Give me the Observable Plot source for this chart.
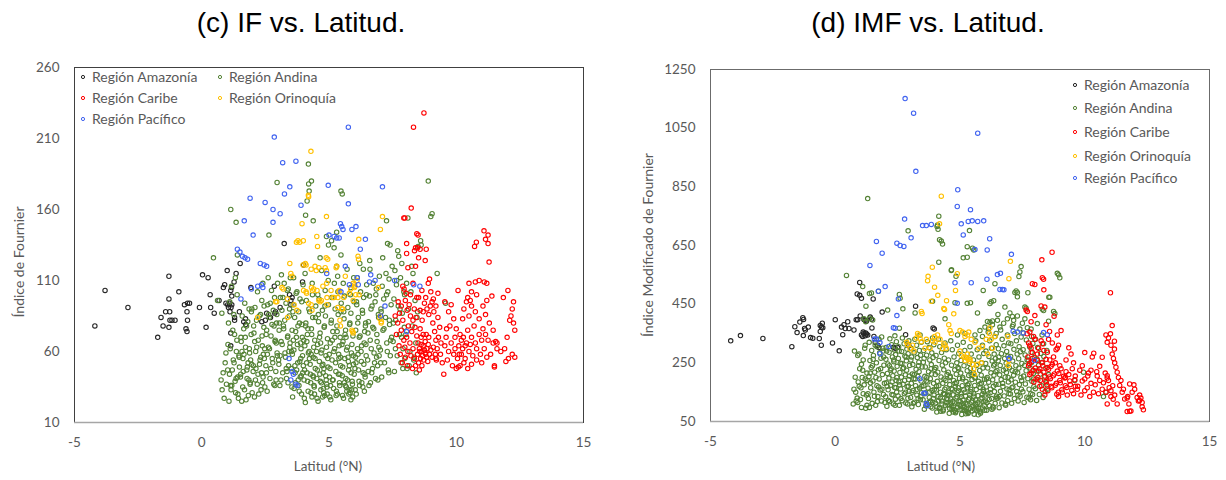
<!DOCTYPE html>
<html><head><meta charset="utf-8">
<script src="https://cdn.jsdelivr.net/npm/d3@7"></script>
<script src="https://cdn.jsdelivr.net/npm/@observablehq/plot@0.6"></script>
<style>
body{margin:0;background:#fff;}
#wrap{position:relative;width:1226px;height:480px;overflow:hidden;font-family:Lato,"Open Sans",sans-serif;}
.title{position:absolute;top:7px;font-family:"Liberation Sans",Arial,sans-serif;font-size:28px;color:#000;white-space:nowrap;transform:translateX(-50%);}
.panel{position:absolute;top:0;}
.lg{position:absolute;font-size:14px;line-height:16px;color:#595959;white-space:nowrap;}
.lg svg{position:absolute;overflow:visible;}
.xl{position:absolute;top:458px;font-size:13.5px;color:#595959;white-space:nowrap;transform:translateX(-50%);}
.yl{position:absolute;font-size:14px;color:#595959;white-space:nowrap;transform:translate(-50%,-50%) rotate(-90deg);}
</style></head>
<body><div id="wrap"></div>
<script>
const regions = ["Región Amazonía","Región Andina","Región Caribe","Región Orinoquía","Región Pacífico"];
const colors = ["#262626","#548235","#ff0000","#ffc000","#4063f0"];
const latTicks = [-5,0,5,10,15];
const ifTicks = [10,60,110,160,210,260];
const imfTicks = [50,250,450,650,850,1050,1250];

// ---------- (c) IF ----------
const amazIF = [[-4.2,78],[-3.8,103],[-2.9,91],[-1.73,70],[-1.6,84],[-1.42,88],[-1.29,97],[-1.29,113],[-1.26,88],[-1.25,82],[-1.17,82],[-1.05,82],[-1.52,78],[-1.29,77],[-0.9,102],[-0.68,93],[-0.58,88],[-0.56,94],[-0.48,94],[-0.56,82],[-0.62,76],[-0.58,74],[-0.09,91],[0.03,114],[0.25,112],[0.17,77],[0.33,100],[0.35,91],[0.49,87],[0.68,96],[0.85,105],[0.9,107],[0.95,94],[1.02,93],[1.1,94],[1.18,93],[1.05,91],[1.15,91],[1.0,117],[1.35,115],[1.17,105],[1.18,99],[1.14,103],[1.27,109],[1.11,88],[1.29,84],[1.29,82],[1.51,122],[1.48,88],[1.72,83],[1.73,79],[1.14,73],[1.14,64],[1.93,105],[2.36,81],[2.55,87],[2.87,87],[2.85,106],[3.08,91],[3.5,96],[3.96,109],[4.0,121],[3.24,136],[3.5,93],[3.55,98],[3.45,100],[2.5,82],[2.9,88],[2.7,84],[1.65,81]];
const andIF = [[0.46,126],[0.62,96],[0.79,87],[0.76,40],[0.8,33],[0.84,45],[0.88,27],[0.92,52],[0.97,37],[0.95,59],
[1.07,25],[1.33,31],[1.18,36],[1.41,42],[1.02,47],[1.27,52],[1.46,57],[1.12,62],[1.38,68],[1.22,75],[1.05,80],[1.44,27],[1.15,33],[1.31,39],[1.09,44],[1.48,49],[1.24,54],[1.36,60],[1.03,65],[1.29,72],[1.42,30],[1.13,36],[1.35,41],[1.2,47],[1.47,56],[1.26,86],[1.1,95],[1.39,100],[1.17,106],[1.32,112],[1.14,160],[1.35,151],[1.4,128],
[1.57,25],[1.83,29],[1.68,33],[1.91,38],[1.52,42],[1.77,47],[1.96,51],[1.62,55],[1.88,59],[1.72,63],[1.55,67],[1.94,72],[1.65,76],[1.81,81],[1.59,85],[1.86,90],[1.74,26],[1.98,31],[1.61,35],[1.85,40],[1.53,44],[1.79,49],[1.92,54],[1.66,58],[1.87,62],[1.54,70],[1.76,78],[1.95,88],[1.69,94],[1.58,60],[1.82,52],[1.63,46],[1.9,37],[1.71,70],[1.97,90],[1.78,41],
[2.07,28],[2.33,33],[2.18,37],[2.41,42],[2.02,46],[2.27,51],[2.46,55],[2.12,60],[2.38,64],[2.22,68],[2.05,73],[2.44,77],[2.15,82],[2.31,86],[2.09,91],[2.36,96],[2.24,30],[2.48,35],[2.11,40],[2.35,45],[2.03,50],[2.29,54],[2.42,58],[2.16,63],[2.37,71],[2.04,78],[2.26,85],[2.45,92],[2.19,102],[2.4,108],[2.13,48],[2.32,56],[2.08,67],[2.47,62],[2.21,44],[2.39,38],
[2.57,32],[2.83,37],[2.68,41],[2.91,46],[2.52,50],[2.77,55],[2.96,59],[2.62,63],[2.88,67],[2.72,71],[2.55,75],[2.94,80],[2.65,84],[2.81,89],[2.59,93],[2.86,98],[2.74,103],[2.98,108],[2.61,112],[2.92,40],[2.54,45],[2.79,52],[2.97,57],[2.66,62],[2.89,68],[2.53,72],[2.76,79],[2.95,86],[2.69,94],[2.84,78],[2.58,58],[2.93,66],[2.71,48],[2.87,36],[2.63,86],[2.64,142],[2.96,179],
[3.07,36],[3.33,41],[3.18,45],[3.41,50],[3.02,54],[3.27,59],[3.46,63],[3.12,67],[3.38,71],[3.22,76],[3.05,80],[3.44,85],[3.15,89],[3.31,94],[3.09,98],[3.36,103],[3.24,108],[3.48,112],[3.11,40],[3.35,46],[3.03,51],[3.29,56],[3.42,60],[3.16,65],[3.37,70],[3.04,75],[3.26,82],[3.45,90],[3.19,98],[3.4,104],[3.13,114],[3.32,48],[3.08,57],[3.47,66],[3.21,78],[3.39,38],
[3.57,28],[3.83,32],[3.68,38],[3.91,43],[3.52,48],[3.77,52],[3.96,57],[3.62,61],[3.88,66],[3.72,70],[3.55,75],[3.94,79],[3.65,84],[3.81,88],[3.59,93],[3.86,97],[3.74,102],[3.98,107],[3.61,112],[3.92,30],[3.54,35],[3.79,40],[3.97,45],[3.66,50],[3.89,55],[3.53,60],[3.76,65],[3.95,70],[3.69,74],[3.84,80],[3.58,88],[3.93,95],[3.71,101],[3.87,42],[3.63,34],[3.99,50],[3.56,58],[3.78,78],[3.9,62],[3.67,45],[3.82,36],[3.6,68],[3.85,53],[3.73,47],
[4.07,24],[4.33,28],[4.18,32],[4.41,36],[4.02,40],[4.27,44],[4.46,48],[4.12,52],[4.38,56],[4.22,60],[4.05,64],[4.44,68],[4.15,72],[4.31,76],[4.09,80],[4.36,84],[4.24,88],[4.48,92],[4.11,96],[4.35,100],[4.03,27],[4.29,31],[4.42,35],[4.16,39],[4.37,43],[4.04,47],[4.26,51],[4.45,55],[4.19,59],[4.4,63],[4.13,67],[4.32,72],[4.08,78],[4.47,84],[4.21,90],[4.34,108],[4.06,115],[4.28,38],[4.43,30],[4.14,45],[4.39,42],[4.23,55],[4.01,68],[4.3,58],[4.17,76],[4.2,178],[4.31,180],[4.22,173],[4.14,166],[4.08,156],[4.38,152],[4.19,192],
[4.57,25],[4.83,29],[4.68,33],[4.91,37],[4.52,41],[4.77,45],[4.96,49],[4.62,53],[4.88,57],[4.72,61],[4.55,65],[4.94,69],[4.65,73],[4.81,77],[4.59,81],[4.86,85],[4.74,89],[4.98,93],[4.61,97],[4.85,103],[4.53,27],[4.79,31],[4.92,35],[4.66,39],[4.87,43],[4.54,47],[4.76,51],[4.95,55],[4.69,59],[4.9,63],[4.63,70],[4.82,78],[4.58,86],[4.97,110],[4.71,117],[4.78,34],[4.93,30],[4.64,44],[4.89,40],[4.73,50],[4.51,60],[4.8,48],[4.67,66],[4.84,92],[4.56,100],[4.7,38],[4.9,141],[4.98,135],[4.65,126],[4.75,28],
[5.07,26],[5.33,30],[5.18,34],[5.41,38],[5.02,42],[5.27,46],[5.46,50],[5.12,54],[5.38,58],[5.22,62],[5.05,66],[5.44,70],[5.15,74],[5.31,78],[5.09,82],[5.36,86],[5.24,90],[5.48,94],[5.11,98],[5.35,102],[5.03,28],[5.29,32],[5.42,36],[5.16,40],[5.37,44],[5.04,48],[5.26,52],[5.45,56],[5.19,60],[5.4,64],[5.13,68],[5.32,74],[5.08,80],[5.47,88],[5.21,108],[5.34,113],[5.06,36],[5.28,29],[5.43,44],[5.14,40],[5.39,55],[5.23,70],[5.01,58],[5.3,120],[5.47,173],[5.52,171],[5.3,144],[5.47,128],[5.1,138],[5.2,133],
[5.57,27],[5.83,31],[5.68,35],[5.91,39],[5.52,43],[5.77,47],[5.96,51],[5.62,55],[5.88,59],[5.72,63],[5.55,67],[5.94,71],[5.65,75],[5.81,79],[5.59,83],[5.86,87],[5.74,91],[5.98,95],[5.61,99],[5.85,105],[5.53,29],[5.79,33],[5.92,37],[5.66,41],[5.87,45],[5.54,49],[5.76,53],[5.95,57],[5.69,61],[5.9,65],[5.63,72],[5.82,80],[5.58,88],[5.97,112],[5.71,118],[5.78,30],[5.93,28],[5.64,36],[5.89,33],[5.73,40],[5.51,65],[5.8,50],[5.67,70],[5.84,100],[5.56,108],[5.7,32],[5.6,38],[5.99,44],[5.75,56],[5.86,26],
[6.07,30],[6.33,35],[6.18,39],[6.41,44],[6.02,48],[6.27,53],[6.46,57],[6.12,62],[6.38,66],[6.22,71],[6.05,75],[6.44,80],[6.15,84],[6.31,89],[6.09,93],[6.36,98],[6.24,102],[6.48,107],[6.11,112],[6.35,118],[6.03,33],[6.29,38],[6.42,42],[6.16,47],[6.37,51],[6.04,56],[6.26,60],[6.45,65],[6.19,70],[6.4,74],[6.13,80],[6.32,87],[6.08,95],[6.47,100],[6.21,122],[6.34,45],[6.06,52],[6.43,78],[6.2,36],[6.28,64],[6.39,32],[6.14,58],
[6.57,36],[6.83,41],[6.68,45],[6.91,50],[6.52,54],[6.77,59],[6.96,63],[6.62,68],[6.88,72],[6.72,77],[6.55,81],[6.94,86],[6.65,90],[6.81,95],[6.59,99],[6.86,104],[6.74,108],[6.98,113],[6.61,118],[6.92,40],[6.54,46],[6.79,52],[6.97,57],[6.66,62],[6.89,67],[6.53,73],[6.76,76],[6.95,84],[6.69,92],[6.84,100],[6.6,124],[6.71,48],[6.87,56],[6.63,38],
[7.07,42],[7.33,47],[7.18,52],[7.41,57],[7.02,61],[7.27,66],[7.46,70],[7.12,75],[7.38,79],[7.22,84],[7.05,88],[7.44,93],[7.15,97],[7.31,102],[7.09,106],[7.36,111],[7.24,115],[7.48,120],[7.11,126],[7.35,45],[7.03,52],[7.29,60],[7.42,68],[7.16,76],[7.37,82],[7.04,90],[7.26,100],[7.3,136],[7.4,135],[7.26,152],
[7.57,46],[7.83,52],[7.68,57],[7.91,62],[7.52,67],[7.77,72],[7.96,77],[7.62,82],[7.88,87],[7.72,92],[7.55,97],[7.94,102],[7.65,107],[7.81,112],[7.59,117],[7.86,122],[7.74,127],[7.98,55],[7.61,62],[7.85,70],[7.53,80],[7.79,90],[7.97,100],[7.66,110],[7.7,131],[7.9,48],
[8.07,48],[8.33,54],[8.18,60],[8.41,66],[8.02,72],[8.27,78],[8.46,84],[8.12,90],[8.38,96],[8.22,102],[8.05,108],[8.3,115],[8.43,45],[8.15,50],[8.48,88],[8.25,120],[9.25,115],[9.58,94],[8.35,56],[8.1,154],[8.6,138],[8.62,135],[8.5,134],[8.9,180],[9.05,157],[9.0,155]];
const carIF = [[8.05,129],[8.36,131],[8.52,126],[8.78,124],[8.4,120],[8.1,119],[8.3,108],[7.9,106],[7.95,104],[8.03,101],[8.9,108],[8.95,111],[9.28,101],[8.52,98],[8.65,103],[8.73,228],[8.32,218],[8.23,161],[7.94,154],[7.98,154],[8.45,143],[8.5,142],[8.05,136],[8.4,133],[8.48,133],[8.58,132],[8.82,132],[11.09,145],[11.25,142],[11.15,139],[11.25,136],[10.79,137],[10.72,134],
[7.84,92],[8.07,89],[7.77,87],[7.9,82],[7.84,75],[8.05,70],[7.94,68],[7.7,80],[7.65,72],[7.75,64],[7.8,58],[7.88,52],[7.72,95],[7.6,85],[8.0,96],[8.15,93],[8.2,85],[8.12,78],[8.25,74],[8.18,66],[8.3,62],[8.22,57],[8.1,60],[8.35,90],[8.42,84],[8.38,77],[8.45,71],[8.5,66],[8.55,62],[8.48,58],[8.6,55],[8.52,52],[8.65,60],[8.7,64],[8.68,57],[8.75,61],[8.8,58],[8.72,54],[8.85,62],[8.78,67],[8.9,65],[8.82,72],[8.95,58],[8.88,53],[9.0,61],[9.05,56],[8.62,70],[8.58,76],[8.66,82],[8.7,88],[8.75,94],[8.8,98],[8.85,90],[8.92,86],[8.98,92],[9.05,95],[9.12,88],[9.08,80],[9.15,74],[9.2,68],[9.1,63],[9.18,58],[9.22,54],[9.25,62],[9.3,70],[9.35,77],[9.28,84],[9.2,92],[9.4,66],[9.38,58],[9.45,52],[9.51,44],[9.2,55],[8.4,50],[8.35,55],[8.28,48],[8.55,47],[8.65,50],[8.0,56],[8.08,50],[7.98,63],[8.2,100],[8.45,98],[8.58,89],[9.0,102],[9.1,97],[8.3,82],[8.7,72],[8.92,70],[8.62,65],[8.78,59],[8.83,56],[8.57,60],
[10.07,103],[10.5,108],[10.75,109],[10.9,110],[11.1,109],[11.29,123],[11.2,108],[10.6,102],[10.45,98],[10.8,100],[11.4,99],[11.2,96],[10.6,92],[10.75,88],[10.5,85],[10.25,83],[10.9,83],[11.05,92],[11.15,86],[9.9,83],[9.75,78],[10.0,76],[10.15,72],[9.6,70],[9.8,66],[9.95,62],[10.2,68],[10.35,64],[10.45,75],[10.6,70],[10.75,66],[10.9,72],[11.05,76],[11.3,80],[11.45,75],[11.55,67],[11.6,62],[11.25,68],[11.1,62],[10.95,58],[10.8,62],[10.65,57],[10.5,60],[10.35,55],[10.2,58],[10.05,55],[9.9,58],[9.7,60],[9.65,54],[9.85,50],[10.0,48],[10.15,50],[10.3,52],[10.45,48],[10.6,51],[10.8,54],[11.0,52],[11.2,56],[11.35,58],[11.5,50],[11.45,66],[10.08,49],[9.55,64],[9.62,76],[9.7,88],[9.55,95],[9.8,93],[10.3,90],[10.4,95],[10.55,96],[10.1,64],[10.25,62],[10.4,66],[10.55,65],[10.12,58],[10.28,70],[9.95,70],[10.7,78],[11.0,68],[11.15,72],
[12.03,103],[11.85,98],[12.2,90],[12.15,85],[12.25,80],[12.1,82],[12.3,75],[12.0,70],[11.9,62],[12.2,58],[12.05,55],[11.95,53],[12.3,56],[11.75,60],[11.6,66],[11.5,49],[12.25,95]];
const oriIF = [[4.29,201],[4.19,170],[4.2,169],[4.9,155],[7.1,155],[7.02,146],[4.52,141],[6.17,139],[3.99,138],[4.55,134],[3.94,150],[3.72,137],[3.78,138],[3.85,137],[3.46,122],[3.98,121],[4.1,121],[4.45,120],[4.85,119],[4.9,117],[5.3,120],[4.89,126],[4.95,125],[6.14,127],[6.16,125],[3.5,115],[3.55,113],[3.15,105],[3.2,104],[2.9,95],[2.95,95],[3.37,97],[3.63,93],[3.74,89],[2.19,84],[3.37,84],[4.1,102],[4.12,101],[4.31,105],[4.53,103],[4.2,94],[4.3,93],[4.6,96],[4.65,95],[4.7,96],[4.33,89],[4.76,106],[4.91,108],[4.92,98],[4.92,93],[5.16,98],[5.2,98],[5.34,91],[5.58,98],[5.5,90],[5.08,103],[5.4,103],[6.0,107],[6.02,106],[6.0,105],[6.18,100],[5.45,78],[5.93,74],[5.95,73],[6.94,105],[7.01,85],[7.06,81],[4.07,122],[4.3,118],[4.5,117],[4.6,119],[5.28,119],[5.64,113],[5.95,108],[6.1,110],[5.4,102],[5.35,98],[4.35,103],[4.4,104],[4.0,103],[5.8,101],[5.85,104],[5.95,96],[6.05,100],[5.43,82],[5.9,75],[7.0,83],[7.05,80],[5.54,90]];
const pacIF = [[2.85,211],[3.18,193],[3.7,194],[3.46,176],[3.25,171],[1.9,168],[2.49,165],[2.8,160],[3.08,157],[3.9,163],[1.67,152],[2.8,151],[2.02,142],[1.4,132],[5.76,218],[4.97,177],[7.1,176],[5.76,164],[5.45,150],[5.5,148],[5.55,146],[5.9,146],[6.06,148],[5.0,142],[5.2,141],[5.3,140],[5.4,140],[6.43,139],[6.23,132],[1.5,130],[1.6,127],[1.7,126],[1.8,125],[2.3,122],[2.45,121],[2.55,120],[1.95,104],[2.2,106],[2.4,105],[2.35,107],[1.54,97],[3.43,55],[3.55,46],[3.6,44],[3.5,40],[3.7,37],[3.75,36],[4.91,115],[5.64,120],[6.11,112],[6.15,107],[6.64,114],[6.81,110],[6.59,109],[5.47,102],[5.8,107],[7.58,110],[7.2,92],[7.03,85],[8.33,107],[8.57,106],[8.05,74]];

// ---------- (d) IMF ----------
const amazIMF = [[-4.19,325],[-3.8,343],[-2.9,333],[-1.74,305],[-1.53,353],[-1.3,404],[-1.27,398],[-1.42,389],[-1.62,373],[-1.23,367],[-1.2,362],[-1.28,343],[-0.99,336],[-0.9,334],[-1.08,372],[-0.64,333],[-0.56,310],[-0.6,377],[-0.55,372],[-0.5,370],[-0.52,385],[-0.11,318],[0.0,397],[0.16,291],[0.25,372],[0.3,346],[0.4,367],[0.55,367],[0.75,362],[0.84,397],[0.9,397],[1.05,345],[1.1,340],[1.15,350],[1.2,342],[1.25,348],[1.3,345],[1.12,355],[1.22,352],[1.2,395],[1.25,392],[1.15,398],[1.47,369],[1.7,310],[1.75,302],[1.45,399],[0.98,524],[0.98,480],[1.05,470],[1.52,468],[1.88,423],[3.22,443],[3.92,369],[3.97,365],[2.82,346],[2.5,302],[2.4,300],[2.9,313],[2.95,308],[0.88,485],[1.0,410],[1.4,406],[1.6,320],[1.55,340],[0.5,390],[0.35,380],[-0.6,357],[2.33,303]];
const andIMF = [[0.45,548],[1.1,510],[1.37,486],[1.45,488],[1.23,443],[1.73,494],[2.57,483],[2.6,470],[2.71,434],[1.15,400],[1.22,390],[1.38,402],[1.5,396],[2.57,368],[1.3,810],[2.92,700],[4.1,720],[4.15,750],[4.18,670],[4.08,715],[4.12,705],[5.38,701],[4.25,665],[4.3,655],[5.5,641],[5.55,635],[4.15,593],[4.66,567],[4.65,565],[4.84,545],[5.13,608],[5.29,610],[5.29,646],[5.93,497],[6.2,452],[6.25,458],[6.35,462],[5.42,455],[4.8,455],[5.29,453],[6.52,415],[6.1,391],[6.2,388],[6.3,393],[7.2,490],[7.25,495],[7.4,560],[7.45,578],[7.36,544],[7.3,490],[7.3,475],[7.72,489],[7.6,440],[7.65,436],[8.56,474],[8.6,474],[8.95,550],[8.9,555],[9.0,540],[8.8,418],[8.75,425],[8.3,433],[8.35,428],[8.1,384],[7.1,374],[7.1,408],[8.55,392],[6.4,520],[4.4,400],[3.2,420],[2.1,430],[5.7,420],[3.9,460],[6.8,440],
[5.6,345],[5.8,360],[6.0,372],[6.15,365],[6.3,380],[6.5,395],[6.6,372],[6.75,385],[6.9,400],[7.0,420],[7.15,395],[7.3,410],[7.5,385],[7.7,370],[7.85,365],[5.9,340],[6.45,350],[7.6,400],[5.2,350],[4.9,345],
[0.72,110],[0.88,130],[0.75,160],[0.92,185],[0.8,201],[1.05,98],[0.84,120],[1.12,145],[0.96,170],[1.2,195],[0.98,230],[1.27,105],[1.01,125],[0.82,150],[1.16,175],[1.08,200],[1.12,260],[0.95,280],[1.22,95],[0.9,115],[1.25,140],[1.03,165],[1.28,190],[1.1,225],[0.77,290],[1.18,300],[1.05,245],[1.2,310],[1.27,215],[0.9,275],
[1.37,98],[1.62,105],[1.48,112],[1.85,120],[1.33,128],[1.71,135],[1.93,142],[1.55,150],[1.8,157],[1.42,165],[1.67,172],[1.97,180],[1.51,188],[1.76,195],[1.35,203],[1.89,210],[1.58,218],[1.73,226],[1.44,234],[1.95,242],[1.65,250],[1.39,258],[1.83,266],[1.53,275],[1.78,284],[1.46,292],[1.91,300],[1.6,310],[1.36,320],[1.75,330],[1.99,115],[1.31,145],[1.87,160],[1.63,200],[1.49,240],[1.94,270],[1.69,118],[1.41,182],[1.82,230],[1.57,136],[1.74,168],[1.4,215],[1.92,290],[1.52,262],[1.67,305],[1.86,338],
[2.07,102],[2.33,110],[2.18,118],[2.41,126],[2.02,134],[2.27,142],[2.46,150],[2.12,158],[2.38,166],[2.22,174],[2.05,182],[2.44,190],[2.15,198],[2.31,206],[2.09,214],[2.36,222],[2.24,230],[2.48,238],[2.11,246],[2.35,254],[2.03,262],[2.29,270],[2.42,278],[2.16,286],[2.37,294],[2.04,302],[2.26,312],[2.45,322],[2.19,332],[2.4,105],[2.13,122],[2.32,140],[2.08,170],[2.47,200],[2.21,225],[2.34,260],[2.06,290],[2.43,165],[2.28,185],[2.17,240],[2.39,342],
[2.57,105],[2.83,113],[2.68,121],[2.91,129],[2.52,137],[2.77,145],[2.96,153],[2.62,161],[2.88,169],[2.72,177],[2.55,185],[2.94,193],[2.65,201],[2.81,209],[2.59,217],[2.86,225],[2.74,233],[2.98,241],[2.61,249],[2.85,257],[2.53,265],[2.79,273],[2.92,281],[2.66,289],[2.87,297],[2.54,305],[2.76,315],[2.95,325],[2.69,335],[2.9,110],[2.63,128],[2.82,150],[2.58,175],[2.97,205],[2.71,230],[2.84,270],[2.56,290],[2.93,170],[2.78,190],[2.67,248],
[3.07,100],[3.33,108],[3.18,116],[3.41,124],[3.02,132],[3.27,140],[3.46,148],[3.12,156],[3.38,164],[3.22,172],[3.05,180],[3.44,188],[3.15,196],[3.31,204],[3.09,212],[3.36,220],[3.24,228],[3.48,236],[3.11,244],[3.35,252],[3.03,260],[3.29,268],[3.42,276],[3.16,284],[3.37,292],[3.04,300],[3.26,310],[3.45,320],[3.19,330],[3.4,345],[3.13,112],[3.32,128],[3.08,150],[3.47,170],[3.21,195],[3.34,240],[3.06,270],[3.43,135],[3.28,160],[3.17,210],
[3.57,92],[3.83,100],[3.68,108],[3.91,116],[3.52,124],[3.77,132],[3.96,140],[3.62,148],[3.88,156],[3.72,164],[3.55,172],[3.94,180],[3.65,188],[3.81,196],[3.59,204],[3.86,212],[3.74,220],[3.98,228],[3.61,236],[3.85,244],[3.53,252],[3.79,260],[3.92,268],[3.66,276],[3.87,284],[3.54,292],[3.76,302],[3.95,312],[3.69,322],[3.9,335],[3.63,104],[3.82,120],[3.58,145],[3.97,160],[3.71,185],[3.84,230],[3.56,265],[3.93,128],[3.78,150],[3.67,200],[3.89,96],[3.75,115],
[4.07,82],[4.33,90],[4.18,97],[4.41,105],[4.02,112],[4.27,120],[4.46,127],[4.12,135],[4.38,142],[4.22,150],[4.05,157],[4.44,165],[4.15,172],[4.31,180],[4.09,187],[4.36,195],[4.24,202],[4.48,210],[4.11,218],[4.35,226],[4.03,234],[4.29,242],[4.42,250],[4.16,258],[4.37,266],[4.04,275],[4.26,285],[4.45,295],[4.19,305],[4.4,318],[4.13,330],[4.32,86],[4.08,100],[4.47,115],[4.21,130],[4.34,145],[4.06,170],[4.43,190],[4.28,110],[4.17,95],[4.39,160],[4.01,210],[4.23,85],[4.49,140],[4.14,120],
[4.57,78],[4.83,85],[4.68,92],[4.91,99],[4.52,106],[4.77,113],[4.96,120],[4.62,127],[4.88,134],[4.72,141],[4.55,148],[4.94,155],[4.65,162],[4.81,169],[4.59,176],[4.86,183],[4.74,190],[4.98,197],[4.61,204],[4.85,211],[4.53,218],[4.79,226],[4.92,234],[4.66,242],[4.87,250],[4.54,260],[4.76,270],[4.95,282],[4.69,295],[4.9,310],[4.63,325],[4.82,80],[4.58,95],[4.97,108],[4.71,118],[4.84,130],[4.56,140],[4.93,165],[4.78,88],[4.67,102],[4.89,150],[4.51,125],[4.73,82],[4.99,90],[4.64,110],[4.8,180],[4.6,200],[4.75,104],[4.95,230],[4.7,160],
[5.07,74],[5.33,81],[5.18,88],[5.41,95],[5.02,102],[5.27,109],[5.46,116],[5.12,123],[5.38,130],[5.22,137],[5.05,144],[5.44,151],[5.15,158],[5.31,165],[5.09,172],[5.36,179],[5.24,186],[5.48,193],[5.11,200],[5.35,207],[5.03,215],[5.29,223],[5.42,231],[5.16,240],[5.37,248],[5.04,258],[5.26,268],[5.45,280],[5.19,292],[5.4,305],[5.13,320],[5.32,77],[5.08,90],[5.47,100],[5.21,112],[5.34,125],[5.06,135],[5.43,160],[5.28,84],[5.17,98],[5.39,140],[5.01,118],[5.23,76],[5.49,86],[5.14,106],[5.3,175],[5.1,195],[5.25,93],[5.45,210],[5.2,150],
[5.57,75],[5.83,82],[5.68,89],[5.91,96],[5.52,103],[5.77,110],[5.96,117],[5.62,124],[5.88,131],[5.72,138],[5.55,145],[5.94,152],[5.65,159],[5.81,166],[5.59,173],[5.86,180],[5.74,187],[5.98,194],[5.61,201],[5.85,208],[5.53,216],[5.79,224],[5.92,232],[5.66,241],[5.87,250],[5.54,260],[5.76,270],[5.95,282],[5.69,295],[5.9,310],[5.63,325],[5.82,78],[5.58,92],[5.97,104],[5.71,114],[5.84,127],[5.56,136],[5.93,160],[5.78,85],[5.67,99],[5.89,142],[5.51,120],[5.73,73],[5.99,88],[5.64,108],[5.8,178],[5.6,198],[5.75,95],
[6.07,88],[6.33,96],[6.18,104],[6.41,112],[6.02,120],[6.27,128],[6.46,136],[6.12,144],[6.38,152],[6.22,160],[6.05,168],[6.44,176],[6.15,184],[6.31,192],[6.09,200],[6.36,208],[6.24,216],[6.48,224],[6.11,232],[6.35,240],[6.03,248],[6.29,256],[6.42,264],[6.16,272],[6.37,280],[6.04,290],[6.26,300],[6.45,312],[6.19,325],[6.4,340],[6.13,355],[6.32,100],[6.08,115],[6.47,130],[6.21,148],[6.34,170],[6.06,195],[6.43,220],[6.28,92],[6.17,125],[6.39,245],[6.01,140],
[6.57,97],[6.83,105],[6.68,113],[6.91,121],[6.52,129],[6.77,137],[6.96,145],[6.62,153],[6.88,161],[6.72,169],[6.55,177],[6.94,185],[6.65,193],[6.81,201],[6.59,209],[6.86,217],[6.74,225],[6.98,233],[6.61,241],[6.85,249],[6.53,257],[6.79,265],[6.92,273],[6.66,281],[6.87,289],[6.54,298],[6.76,308],[6.95,318],[6.69,330],[6.9,345],[6.63,362],[6.82,110],[6.58,135],[6.97,158],[6.71,180],[6.84,230],[6.56,270],[6.93,200],
[7.07,112],[7.33,120],[7.18,128],[7.41,136],[7.02,144],[7.27,152],[7.46,160],[7.12,168],[7.38,176],[7.22,184],[7.05,192],[7.44,200],[7.15,208],[7.31,216],[7.09,224],[7.36,232],[7.24,240],[7.48,248],[7.11,256],[7.35,264],[7.03,272],[7.29,280],[7.42,288],[7.16,296],[7.37,305],[7.04,315],[7.26,325],[7.45,338],[7.19,350],[7.4,365],[7.13,380],[7.32,140],[7.08,165],[7.47,190],[7.21,220],
[7.57,115],[7.83,124],[7.68,133],[7.91,142],[7.52,151],[7.77,160],[7.96,169],[7.62,178],[7.88,187],[7.72,196],[7.55,205],[7.94,214],[7.65,223],[7.81,232],[7.59,241],[7.86,250],[7.74,259],[7.98,268],[7.61,277],[7.85,286],[7.53,295],[7.79,305],[7.92,316],[7.66,328],[7.87,340],[7.54,352],[7.76,130],[7.95,195],[7.69,260],[7.84,145],
[8.07,122],[8.33,132],[8.18,142],[8.41,152],[8.02,162],[8.27,172],[8.46,182],[8.12,192],[8.38,202],[8.22,212],[8.05,222],[8.44,232],[8.15,242],[8.31,252],[8.09,262],[8.36,272],[8.24,282],[8.48,292],[8.11,302],[8.35,315],[8.03,330],[8.29,345],[8.5,160],[8.55,210],[9.95,218],[10.75,135],[10.85,150],[9.6,190]];
const carIMF = [[8.69,627],[8.28,601],[8.3,540],[8.35,535],[7.9,520],[8.0,517],[8.36,499],[11.03,489],[7.65,430],[7.7,425],[8.0,411],[8.77,409],[8.25,444],[8.4,440],[11.1,377],[8.59,357],[7.85,390],[8.45,380],[9.05,360],[8.9,345],
[7.69,349],[7.8,355],[7.95,340],[7.8,310],[7.75,318],[7.85,300],[8.36,292],[8.3,315],[8.25,325],[8.9,300],[8.95,310],[8.85,295],[8.7,318],[9.36,301],[8.55,330],[7.9,285],[8.1,280],[8.5,286],[8.0,330],[8.15,300],
[7.72,270],[7.88,255],[7.75,240],[7.93,225],[7.8,210],[8.05,195],[7.9,265],[7.78,248],[8.02,232],[7.85,215],[8.12,200],[7.96,185],[8.2,170],[8.1,258],[8.32,240],[8.15,222],[8.4,205],[8.22,190],[8.48,175],[8.3,160],[8.28,250],[8.5,234],[8.36,218],[8.58,202],[8.44,186],[8.66,170],[8.52,155],[8.45,262],[8.7,245],[8.55,228],[8.78,212],[8.62,196],[8.86,180],[8.68,165],[8.94,150],[8.65,238],[8.9,222],[8.74,206],[9.0,190],[8.82,174],[9.08,158],[8.88,143],[8.82,250],[9.05,230],[8.96,214],[9.2,198],[9.02,182],[9.28,166],[9.1,150],[9.0,240],[9.25,220],[9.15,204],[9.4,188],[9.22,172],[9.48,156],[9.3,140],[9.25,260],[9.5,230],[9.36,210],[9.6,192],[9.42,176],[9.7,160],[9.55,145],[9.55,250],[9.8,225],[9.62,205],[9.9,188],[9.72,170],[10.0,155],[9.85,140],[9.9,240],[10.15,215],[10.0,195],[10.0,285],[10.25,180],[10.1,165],[10.35,150],[10.2,135],[10.25,225],[10.3,270],[10.5,205],[10.36,283],[10.6,190],[10.42,175],[10.7,160],[10.55,145],[10.6,238],[10.82,215],[10.7,269],[10.9,198],[10.75,182],[10.98,165],[10.85,150],[10.9,206],[11.05,135],[10.95,190],[11.12,172],[11.05,155],[11.2,140],[11.14,126],[8.6,260],[8.4,140],[8.95,135],[9.22,200],[9.62,170],[10.12,205],[10.48,220],[8.2,230],[8.75,270],[9.45,280],
[10.9,320],[10.95,335],[10.85,345],[11.05,310],[11.19,324],[11.19,297],[11.1,280],[11.15,265],[11.2,250],[11.3,218],[11.03,349],[11.25,235],[11.4,173],[11.6,127],[11.77,110],[11.8,178],[11.97,175],[12.2,140],[12.25,130],[12.1,132],[12.15,120],[12.2,122],[12.3,115],[11.7,130],[11.72,135],[11.8,85],[11.85,86],[11.7,84],[11.3,110],[10.9,110],[11.5,150],[11.55,160],[11.9,150],[12.0,160],[12.3,100],[12.35,90],[11.45,190],[11.35,200]];
const oriIMF = [[4.25,818],[4.18,724],[3.89,576],[3.7,530],[3.72,545],[3.98,508],[4.11,480],[3.85,460],[4.46,462],[4.82,497],[4.89,554],[4.35,435],[4.38,432],[3.45,425],[3.48,418],[4.55,380],[3.3,350],[3.35,345],[3.25,335],[3.4,333],[3.45,322],[2.86,320],[2.9,312],[3.98,340],[4.4,310],[4.45,300],[4.3,298],[4.35,315],[5.0,360],[5.1,355],[5.2,340],[5.3,345],[5.35,355],[5.0,290],[5.05,275],[5.15,270],[5.25,268],[5.3,280],[5.32,262],[5.4,255],[5.5,245],[5.55,230],[5.58,210],[6.2,370],[6.18,350],[6.25,330],[6.4,340],[7.02,596],[6.96,537],[6.95,258],[6.93,241],[6.92,340],[4.75,417],[4.6,360],[4.65,350],[3.6,300],[3.8,300],[3.0,298],[3.1,310],[3.15,290],[3.65,330],[3.9,325],[4.0,320],[4.2,330],[4.1,345],[5.45,330],[5.6,320],[5.75,300],[5.9,305],[6.05,330],[6.3,300],[5.2,258],[5.4,262],[5.7,245],[5.85,250],[6.1,280]];
const pacIMF = [[2.8,1151],[3.14,1101],[3.23,903],[2.78,740],[3.5,718],[3.65,718],[3.85,722],[1.65,664],[2.47,658],[2.75,647],[3.04,676],[5.71,1033],[4.91,840],[4.89,783],[5.42,772],[5.05,724],[5.33,732],[5.49,734],[5.71,732],[5.95,734],[5.13,686],[6.19,673],[5.6,636],[6.09,635],[2.6,650],[1.88,624],[1.39,582],[2.0,510],[1.73,494],[2.53,468],[2.47,411],[2.33,370],[2.4,368],[1.57,331],[1.65,331],[1.79,319],[2.15,306],[1.79,281],[3.39,196],[3.55,146],[3.6,146],[3.65,111],[3.68,104],[5.45,523],[4.8,523],[4.89,453],[6.08,535],[6.5,551],[6.62,555],[6.6,500],[6.7,500],[7.06,620],[7.13,358],[6.97,264],[6.76,499],[7.3,355],[7.53,352],[8.35,353],[8.5,346],[7.99,258],[6.96,266]];

function tag(arr, k){ return arr.map(([lat, v]) => ({lat, v, region: regions[k]})); }
const dataIF = [amazIF, andIF, carIF, oriIF, pacIF].flatMap((a, k) => tag(a, k));
const dataIMF = [amazIMF, andIMF, carIMF, oriIMF, pacIMF].flatMap((a, k) => tag(a, k));

function panel(data, yTicks, m, frameColor){
  return Plot.plot({
    width: 613, height: 480,
    marginLeft: m[0], marginRight: m[1], marginTop: m[2], marginBottom: m[3],
    style: {fontFamily: "Lato, 'Open Sans', sans-serif", fontSize: "13.5px", color: "#595959", background: "transparent", overflow: "visible"},
    x: {domain: [latTicks[0], latTicks[latTicks.length-1]], ticks: latTicks, tickSize: 0, tickPadding: 15, label: null, tickFormat: d => String(d)},
    y: {domain: [yTicks[0], yTicks[yTicks.length-1]], ticks: yTicks, tickSize: 0, tickPadding: 15, label: null, tickFormat: d => String(d)},
    color: {domain: regions, range: colors},
    marks: [
      Plot.frame({stroke: frameColor, strokeWidth: 1}),
      Plot.ruleY([yTicks[0]], {stroke: "#a6a6a6", strokeWidth: 1.5}),
      Plot.dot(data, {x: "lat", y: "v", stroke: "region", r: 2.2, strokeWidth: 1.1})
    ]
  });
}

const wrap = document.getElementById("wrap");
function place(el, left){ el.classList.add("panel"); el.style.left = left + "px"; wrap.appendChild(el); }
place(panel(dataIF, ifTicks, [74, 30, 67, 58], "#404040"), 0);
place(panel(dataIMF, imfTicks, [97, 17, 69, 59], "#6b6b6b"), 613);

function addDiv(cls, text, left, top){
  const d = document.createElement("div"); d.className = cls; d.textContent = text;
  d.style.left = left + "px"; if (top != null) d.style.top = top + "px";
  wrap.appendChild(d); return d;
}
addDiv("title", "(c) IF vs. Latitud.", 301);
addDiv("title", "(d) IMF vs. Latitud.", 928);
addDiv("xl", "Latitud (°N)", 328);
addDiv("xl", "Latitud (°N)", 941);
addDiv("yl", "Índice de Fournier", 18, 262);
addDiv("yl", "Índice Modificado de Fournier", 647, 245);

function legendItem(k, mx, cy){
  const d = document.createElement("div"); d.className = "lg";
  d.style.left = (mx + 9) + "px"; d.style.top = (cy - 8) + "px";
  d.textContent = regions[k];
  const s = document.createElementNS("http://www.w3.org/2000/svg", "svg");
  s.setAttribute("width", 6); s.setAttribute("height", 6);
  s.style.left = "-12px"; s.style.top = "5px";
  const c = document.createElementNS("http://www.w3.org/2000/svg", "circle");
  c.setAttribute("cx", 3); c.setAttribute("cy", 3); c.setAttribute("r", 1.6);
  c.setAttribute("fill", "none"); c.setAttribute("stroke", colors[k]); c.setAttribute("stroke-width", 1);
  s.appendChild(c); d.appendChild(s); wrap.appendChild(d);
}
legendItem(0, 83, 77); legendItem(1, 220, 77);
legendItem(2, 83, 98); legendItem(3, 220, 98);
legendItem(4, 83, 119);
[0,1,2,3,4].forEach((k, i) => legendItem(k, 1075, [85,108,132,156,178][i]));
</script>
</body></html>
